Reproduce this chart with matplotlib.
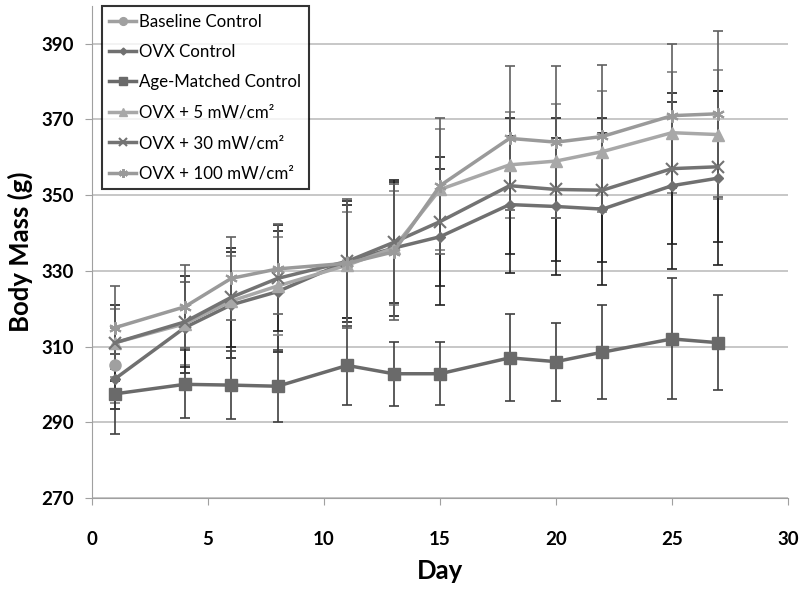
import matplotlib
matplotlib.use("Agg")
import matplotlib.pyplot as plt

plt.rcParams['font.family'] = ['Lato', 'DejaVu Sans']

days = [1, 4, 6, 8, 11, 13, 15, 18, 20, 22, 25, 27]

baseline_day = [1]
baseline = [305]
baseline_sd = [10]

ovx_ctrl = [301.5, 315, 321, 324.5, 332.5, 336, 339, 347.5, 347, 346.3, 352.5, 354.5]
ovx_ctrl_sd = [8, 12, 14, 16, 16, 18, 18, 18, 18, 20, 22, 23]

age_matched = [297.5, 300, 299.8, 299.5, 305, 302.8, 302.8, 307, 306, 308.5, 312, 311]
age_matched_sd = [10.5, 9, 9, 9.5, 10.5, 8.5, 8.3, 11.5, 10.3, 12.5, 16, 12.5]

ovx5 = [311, 316, 322, 326, 331.5, 336, 351.5, 358, 359, 361.5, 366.5, 366]
ovx5_sd = [9, 11, 12, 13, 14, 15, 16, 14, 15, 16, 16, 17]

ovx30 = [311, 316.5, 323, 328, 332.5, 337.5, 343, 352.5, 351.5, 351.3, 357, 357.5]
ovx30_sd = [10, 12, 13, 14, 15, 16, 17, 18, 19, 19, 20, 20]

ovx100 = [315, 320.5, 328, 330.5, 332, 335, 352.5, 365, 364, 365.5, 371, 371.5]
ovx100_sd = [11, 11, 11, 12, 17, 18, 18, 19, 20, 19, 19, 22]

series = [
    ("Baseline Control", baseline_day, baseline, baseline_sd, '#a0a0a0', 'o', 8, '#808080'),
    ("OVX Control", days, ovx_ctrl, ovx_ctrl_sd, '#707070', 'D', 5, '#202020'),
    ("Age-Matched Control", days, age_matched, age_matched_sd, '#6a6a6a', 's', 8, '#404040'),
    ("OVX + 5 mW/cm²", days, ovx5, ovx5_sd, '#a8a8a8', '^', 8, '#808080'),
    ("OVX + 30 mW/cm²", days, ovx30, ovx30_sd, '#737373', 'x', 8, '#202020'),
    ("OVX + 100 mW/cm²", days, ovx100, ovx100_sd, '#9a9a9a', (6, 2, 0), 9, '#606060'),
]

fig = plt.figure(figsize=(8, 5.92), dpi=100)
ax = fig.add_axes([0.115, 0.159, 0.87, 0.831])

for name, x, y, sd, col, mk, ms, ecol in series:
    ax.errorbar(x, y, yerr=sd, fmt='none', ecolor=ecol, elinewidth=1.2, capsize=3.5, capthick=1.2, zorder=2)
for name, x, y, sd, col, mk, ms, ecol in series:
    ax.plot(x, y, color=col, marker=mk, markersize=ms, linewidth=2.5,
            markeredgewidth=1.5 if mk in ('x', (6, 2, 0)) else 1,
            markeredgecolor=col, label=name, zorder=3)

ax.set_xlim(0, 30)
ax.set_ylim(270, 400)
ax.set_xticks(range(0, 31, 5))
ax.set_yticks(range(270, 391, 20))
ax.grid(axis='y', color='#bdbdbd', linewidth=1.2)
ax.set_axisbelow(True)
for s in ('top', 'right'):
    ax.spines[s].set_visible(False)
for s in ('left', 'bottom'):
    ax.spines[s].set_color('#a0a0a0')
ax.tick_params(axis='both', colors='#a0a0a0', labelcolor='black', labelsize=13.5, length=5)
ax.tick_params(axis='x', pad=19)
ax.tick_params(axis='y', pad=8)
for lbl in ax.get_xticklabels() + ax.get_yticklabels():
    lbl.set_fontweight('bold')

ax.set_xlabel("Day", fontsize=18.5, fontweight='bold', labelpad=8)
ax.set_ylabel("Body Mass (g)", fontsize=18.5, fontweight='bold', labelpad=6)

leg = ax.legend(loc='upper left', bbox_to_anchor=(0.014, 1.0), fontsize=12.2, frameon=True,
                fancybox=False, edgecolor='black', handlelength=1.6, handletextpad=0.15,
                borderpad=0.45, labelspacing=0.85, borderaxespad=0.0, markerscale=0.7)
leg.get_frame().set_linewidth(1.5)

fig.savefig("out.png", dpi=100)
